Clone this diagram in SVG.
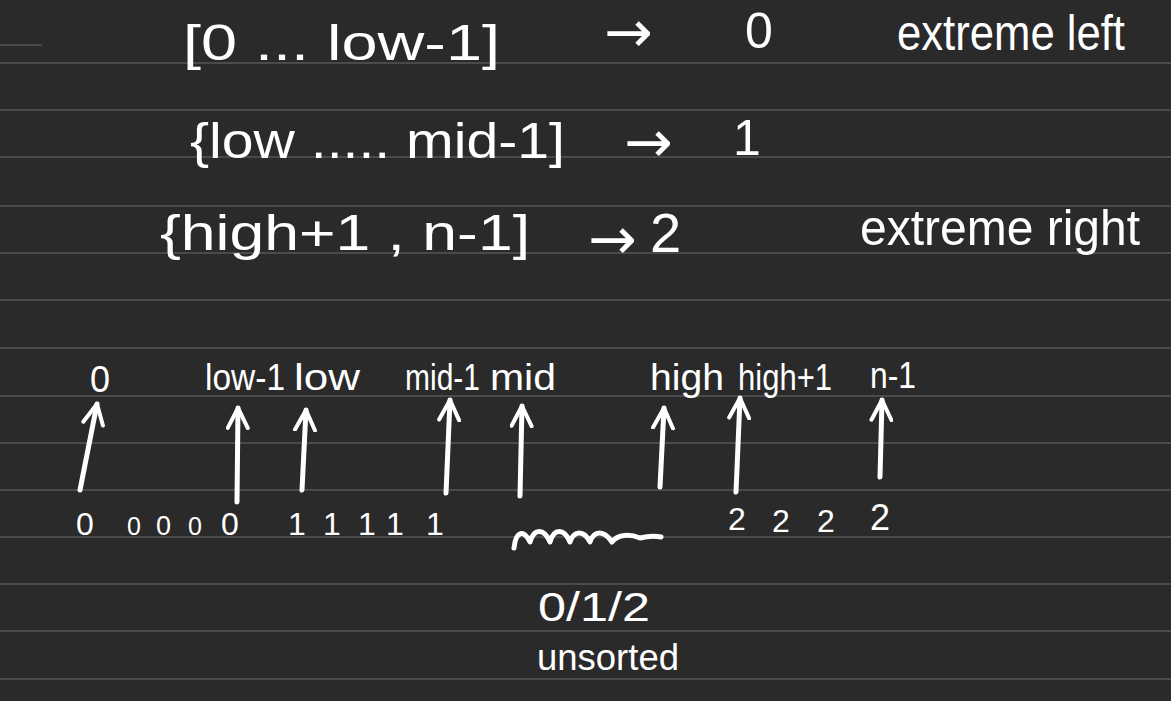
<svg xmlns="http://www.w3.org/2000/svg" width="1171" height="701" viewBox="0 0 1171 701">
<style>
.t{font-family:"Liberation Sans",Arial,sans-serif;fill:#ffffff;}
.big{font-size:50px;}
.sym{font-family:"DejaVu Sans",sans-serif;font-size:58px;fill:#ffffff;}
.lab{font-size:36px;}
.num{font-size:32px;}
.rule{stroke:#4a4a4a;stroke-width:2;}
.arr{stroke:#ffffff;stroke-width:5;stroke-linecap:round;fill:none;marker-end:url(#ah);}
</style>
<defs>
<marker id="ah" viewBox="0 0 12 12" refX="11" refY="6" markerWidth="24" markerHeight="24" markerUnits="userSpaceOnUse" orient="auto">
<path d="M1,1 L11,6 L1,11" fill="none" stroke="#ffffff" stroke-width="2" stroke-linecap="round" stroke-linejoin="round"/>
</marker>
</defs>
<rect x="0" y="0" width="1171" height="701" fill="#2a2a2a"/>
<g id="rules">
<line class="rule" x1="0" y1="45" x2="42" y2="45"/>
<line class="rule" x1="0" y1="63" x2="1171" y2="63"/>
<line class="rule" x1="0" y1="110" x2="1171" y2="110"/>
<line class="rule" x1="0" y1="157" x2="1171" y2="157"/>
<line class="rule" x1="0" y1="206" x2="1171" y2="206"/>
<line class="rule" x1="0" y1="253" x2="1171" y2="253"/>
<line class="rule" x1="0" y1="300" x2="1171" y2="300"/>
<line class="rule" x1="0" y1="348" x2="1171" y2="348"/>
<line class="rule" x1="0" y1="396" x2="1171" y2="396"/>
<line class="rule" x1="0" y1="443" x2="1171" y2="443"/>
<line class="rule" x1="0" y1="490" x2="1171" y2="490"/>
<line class="rule" x1="0" y1="537" x2="1171" y2="537"/>
<line class="rule" x1="0" y1="584" x2="1171" y2="584"/>
<line class="rule" x1="0" y1="631" x2="1171" y2="631"/>
<line class="rule" x1="0" y1="679" x2="1171" y2="679"/>
</g>
<g id="row1">
<text class="t big" x="183" y="60" textLength="317" lengthAdjust="spacingAndGlyphs">[0 ... low-1]</text>
<text class="sym" x="604" y="52">→</text>
<text class="t big" x="745" y="48">0</text>
<text class="t big" x="897" y="50" textLength="228" lengthAdjust="spacingAndGlyphs">extreme left</text>
</g>
<g id="row2">
<text class="t big" x="190" y="158" textLength="375" lengthAdjust="spacingAndGlyphs">{low ..... mid-1]</text>
<text class="sym" x="624" y="162">→</text>
<text class="t big" x="733" y="155">1</text>
</g>
<g id="row3">
<text class="t big" x="160" y="250" textLength="370" lengthAdjust="spacingAndGlyphs">{high+1 , n-1]</text>
<text class="sym" x="588" y="259">→</text>
<text class="t" x="650" y="252" style="font-size:56px">2</text>
<text class="t big" x="860" y="245" textLength="280" lengthAdjust="spacingAndGlyphs">extreme right</text>
</g>
<g id="labels">
<text class="t lab" x="90" y="392">0</text>
<text class="t lab" x="205" y="390" textLength="80" lengthAdjust="spacingAndGlyphs">low-1</text>
<text class="t lab" x="294" y="390" textLength="66" lengthAdjust="spacingAndGlyphs">low</text>
<text class="t lab" x="405" y="390" textLength="75" lengthAdjust="spacingAndGlyphs">mid-1</text>
<text class="t lab" x="490" y="390" textLength="66" lengthAdjust="spacingAndGlyphs">mid</text>
<text class="t lab" x="650" y="390" textLength="74" lengthAdjust="spacingAndGlyphs">high</text>
<text class="t lab" x="738" y="390" textLength="94" lengthAdjust="spacingAndGlyphs">high+1</text>
<text class="t lab" x="870" y="388" textLength="46" lengthAdjust="spacingAndGlyphs">n-1</text>
</g>
<g id="connectors">
<line class="arr" x1="80" y1="490" x2="97" y2="404"/>
<line class="arr" x1="237" y1="502" x2="238" y2="408"/>
<line class="arr" x1="302" y1="490" x2="306" y2="410"/>
<line class="arr" x1="446" y1="493" x2="450" y2="400"/>
<line class="arr" x1="520" y1="496" x2="522" y2="406"/>
<line class="arr" x1="660" y1="487" x2="664" y2="408"/>
<line class="arr" x1="736" y1="492" x2="740" y2="398"/>
<line class="arr" x1="880" y1="477" x2="882" y2="400"/>
</g>
<g id="values">
<text class="t num" x="76" y="535">0</text>
<text class="t num" x="127" y="535" style="font-size:25px">0</text>
<text class="t num" x="156" y="535" style="font-size:27px">0</text>
<text class="t num" x="188" y="535" style="font-size:25px">0</text>
<text class="t num" x="221" y="535">0</text>
<text class="t num" x="288" y="535">1</text>
<text class="t num" x="323" y="535">1</text>
<text class="t num" x="358" y="535">1</text>
<text class="t num" x="386" y="535">1</text>
<text class="t num" x="426" y="535">1</text>
<text class="t num" x="728" y="530">2</text>
<text class="t num" x="772" y="532">2</text>
<text class="t num" x="817" y="532">2</text>
<text class="t num" x="870" y="530" style="font-size:36px">2</text>
</g>
<g id="unsorted">
<path d="M514,548 C516,530 524,530 530,542 C534,528 544,528 550,542 C554,528 564,528 570,542 C574,530 584,530 590,542 C594,530 604,530 612,542 C618,534 630,534 640,538 C648,536 656,536 661,537" fill="none" stroke="#ffffff" stroke-width="5" stroke-linecap="round" stroke-linejoin="round"/>
<text class="t" x="538" y="621" style="font-size:40px" textLength="112" lengthAdjust="spacingAndGlyphs">0/1/2</text>
<text class="t" x="537" y="670" style="font-size:36px" textLength="142" lengthAdjust="spacingAndGlyphs">unsorted</text>
</g>
</svg>
